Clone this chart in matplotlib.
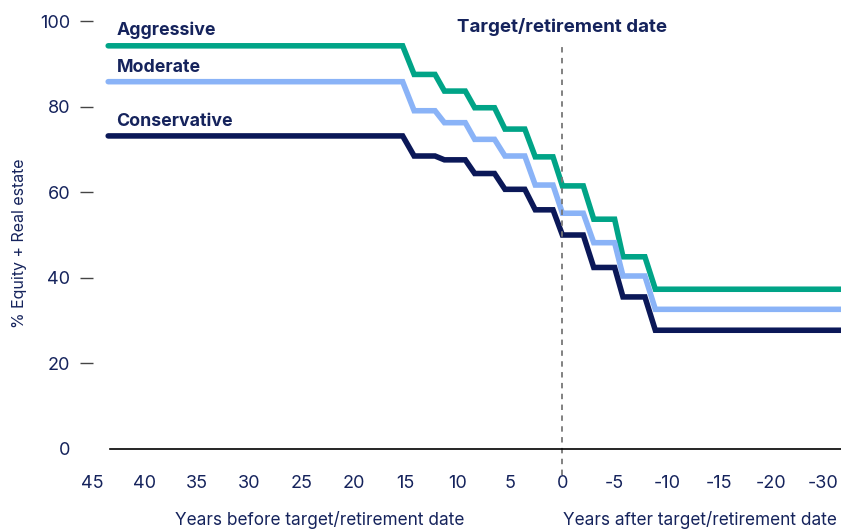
import matplotlib.pyplot as plt

# glide paths (years before target date -> % equity + real estate)
years = [43.5, 15.3, 14.2, 12.2, 11.3, 9.3, 8.4, 6.5, 5.5, 3.6, 2.6, 0.9, 0.0,
         -2.0, -3.0, -5.0, -5.8, -7.9, -8.9, -26.7]
aggressive = [94.3, 94.3, 87.6, 87.6, 83.7, 83.7, 79.8, 79.8, 74.8, 74.8, 68.3, 68.3, 61.5,
              61.5, 53.7, 53.7, 44.9, 44.9, 37.3, 37.3]
moderate = [85.9, 85.9, 79.1, 79.1, 76.3, 76.3, 72.4, 72.4, 68.5, 68.5, 61.7, 61.7, 55.1,
            55.1, 48.2, 48.2, 40.4, 40.4, 32.6, 32.6]
conservative = [73.2, 73.2, 68.5, 68.5, 67.6, 67.6, 64.4, 64.4, 60.7, 60.7, 55.9, 55.9, 50.0,
                50.0, 42.4, 42.4, 35.5, 35.5, 27.7, 27.7]

xtick_pos = [45, 40, 35, 30, 25, 20, 15, 10, 5, 0, -5, -10, -15, -20, -25]
xtick_labels = ["45", "40", "35", "30", "25", "20", "15", "10", "5", "0",
                "-5", "-10", "-15", "-20", "-30"]
ytick_pos = [0, 20, 40, 60, 80, 100]

navy = "#15235c"
plt.rcParams["font.family"] = ["Inter", "DejaVu Sans"]

fig = plt.figure(figsize=(8.45, 5.29), dpi=100)
ax = fig.add_axes([80 / 845, 1 - 469.9 / 529, (841.2 - 80) / 845, (469.9 - 17.2) / 529])

ax.plot(years, aggressive, color="#00a487", lw=4, solid_capstyle="round", solid_joinstyle="miter")
ax.plot(years, moderate, color="#8ab3f7", lw=4, solid_capstyle="round", solid_joinstyle="miter")
ax.plot(years, conservative, color="#0b1858", lw=4, solid_capstyle="round", solid_joinstyle="miter")

ax.text(42.7, 98, "Aggressive", color=navy, fontsize=12.8, fontweight="bold", va="center")
ax.text(42.7, 89.2, "Moderate", color=navy, fontsize=12.8, fontweight="bold", va="center")
ax.text(42.7, 76.5, "Conservative", color=navy, fontsize=12.8, fontweight="bold", va="center")

ax.plot([0, 0], [-6.2, 95], color="#777777", lw=1.3, ls=(0, (3, 3)), clip_on=False)
ax.text(0, 98.7, "Target/retirement date", color=navy, fontsize=13.5, fontweight="bold",
        ha="center", va="center")

ax.plot([43.3, -26.7], [0, 0], color="black", lw=1.2)

ax.set_xlim(46.2, -26.7)
ax.set_ylim(-5, 101)
for s in ax.spines.values():
    s.set_visible(False)

ax.set_xticks(xtick_pos)
ax.set_xticklabels(xtick_labels)
ax.tick_params(axis="x", length=0, pad=4, labelsize=13, labelcolor=navy)
ax.set_yticks(ytick_pos)
ax.tick_params(axis="y", direction="in", length=9.5, width=1, color="#444444", pad=7,
               labelsize=13, labelcolor=navy)
ax.yaxis.get_major_ticks()[0].tick1line.set_visible(False)

ax.set_ylabel("% Equity + Real estate", color=navy, fontsize=11.5)
ax.yaxis.set_label_coords(-0.069, 0.5)

fig.text(320 / 845, 1 - 520 / 529, "Years before target/retirement date", color=navy,
         fontsize=12.4, ha="center", va="center")
fig.text(700 / 845, 1 - 520 / 529, "Years after target/retirement date", color=navy,
         fontsize=12.4, ha="center", va="center")

fig.savefig("out.png", dpi=100)
